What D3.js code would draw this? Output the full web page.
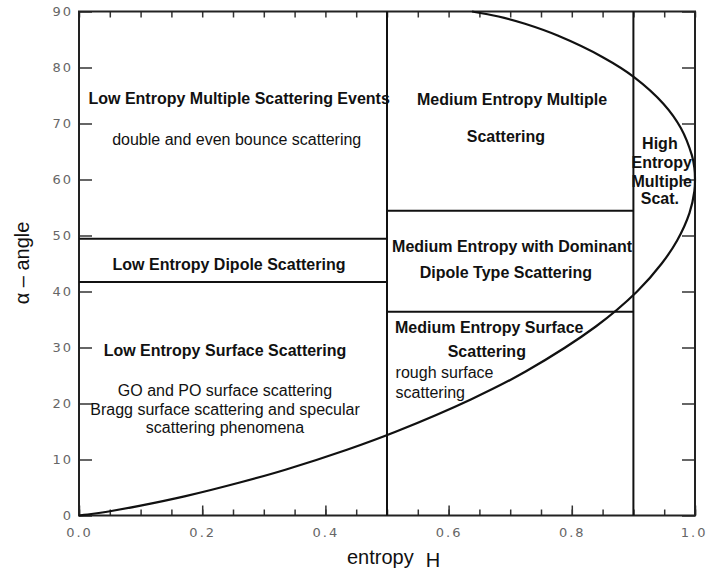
<!doctype html>
<html lang="en">
<head>
<meta charset="utf-8">
<title>H / alpha plane</title>
<script src="https://d3js.org/d3.v7.min.js"></script>
<style>
  body { margin: 0; background: #fff; }
  .zone { font-family: "Liberation Sans", Arial, sans-serif; font-size: 16px; fill: #111; }
  .zone.bold { font-weight: bold; }
  .axis-title { font-family: "Liberation Sans", Arial, sans-serif; font-size: 20px; fill: #111; }
  .tick text { font-family: "DejaVu Sans", sans-serif; font-size: 13px; fill: #666; letter-spacing: 2px; }
  .tick line { stroke: #333; stroke-width: 1.5; }
</style>
</head>
<body>
<div id="chart"></div>
<script>
// boundary of the feasible region (entropy H, alpha in degrees)
var lowerH     = [0, 0.014, 0.026, 0.057, 0.100, 0.173, 0.261, 0.335, 0.435, 0.515, 0.637, 0.725, 0.839, 0.906, 0.946, 0.971, 0.991, 0.999, 1.0];
var lowerAlpha = [0, 0.18, 0.36, 0.89, 1.76, 3.46, 5.89, 8.18, 11.74, 15.0, 20.77, 25.71, 33.75, 40.0, 45.0, 49.1, 54.0, 57.9, 60.0];
var upperH     = [0.999, 0.995, 0.977, 0.949, 0.901, 0.851, 0.777, 0.724, 0.681, 0.638];
var upperAlpha = [62.1, 64.3, 69.2, 73.5, 78.3, 81.8, 85.7, 87.8, 89.1, 90.0];

// zone borders
var entropySplits = [0.5, 0.9];
var lowAlphaSplits = [41.7, 49.4];
var medAlphaSplits = [36.4, 54.4];

// axis ticks
var xMajorTicks = [0, 0.2, 0.4, 0.6, 0.8, 1.0];
var xMinorTicks = d3.range(0, 1.0001, 0.05);
var yTicks = [0, 10, 20, 30, 40, 50, 60, 70, 80, 90];

// zone labels: [text, H, alpha, bold, anchor]
var zoneLabels = [
  ["Low Entropy Multiple Scattering Events", 0.260, 73.5, true, "middle"],
  ["double and even bounce scattering", 0.256, 66.2, false, "middle"],
  ["Low Entropy Dipole Scattering", 0.2435, 43.8, true, "middle"],
  ["Low Entropy Surface Scattering", 0.237, 28.5, true, "middle"],
  ["GO and PO surface scattering", 0.237, 21.3, false, "middle"],
  ["Bragg surface scattering and specular", 0.237, 17.9, false, "middle"],
  ["scattering phenomena", 0.237, 14.7, false, "middle"],
  ["Medium Entropy Multiple", 0.703, 73.3, true, "middle"],
  ["Scattering", 0.693, 66.7, true, "middle"],
  ["High", 0.943, 65.4, true, "middle"],
  ["Entropy", 0.946, 62.05, true, "middle"],
  ["Multiple", 0.946, 58.7, true, "middle"],
  ["Scat.", 0.943, 55.6, true, "middle"],
  ["Medium Entropy with Dominant", 0.703, 47.05, true, "middle"],
  ["Dipole Type Scattering", 0.693, 42.4, true, "middle"],
  ["Medium Entropy Surface", 0.666, 32.6, true, "middle"],
  ["Scattering", 0.662, 28.3, true, "middle"],
  ["rough surface", 0.514, 24.55, false, "start"],
  ["scattering", 0.514, 21.0, false, "start"]
];

(function() {
  var width = 707, height = 572;
  var margin = {top: 11.5, right: 12, bottom: 56.5, left: 79};

  var x = d3.scaleLinear().domain([0, 1]).range([margin.left, width - margin.right]);
  var y = d3.scaleLinear().domain([0, 90]).range([height - margin.bottom, margin.top]);

  var svg = d3.select("#chart").append("svg")
      .attr("width", width)
      .attr("height", height);

  // ticks, all pointing inward
  svg.append("g")
      .attr("transform", "translate(0," + y(0) + ")")
      .call(d3.axisBottom(x).tickValues(xMinorTicks).tickSize(-6).tickFormat(""))
      .call(function(g) { g.select(".domain").remove(); });
  svg.append("g")
      .attr("transform", "translate(0," + y(0) + ")")
      .call(d3.axisBottom(x).tickValues(xMajorTicks).tickSize(-10).tickPadding(12).tickFormat(d3.format(".1f")))
      .call(function(g) {
        g.select(".domain").remove();
        // keep the last label inside the window
        g.selectAll(".tick").filter(function(d) { return d === 1; })
          .select("text").attr("text-anchor", "end").attr("dx", 12);
      });
  svg.append("g")
      .attr("transform", "translate(0," + y(90) + ")")
      .call(d3.axisTop(x).tickValues(xMinorTicks).tickSize(-6).tickFormat(""))
      .call(function(g) { g.select(".domain").remove(); });
  svg.append("g")
      .attr("transform", "translate(" + x(0) + ",0)")
      .call(d3.axisLeft(y).tickValues(yTicks).tickSize(-13).tickPadding(6))
      .call(function(g) { g.select(".domain").remove(); });
  svg.append("g")
      .attr("transform", "translate(" + x(1) + ",0)")
      .call(d3.axisRight(y).tickValues(yTicks).tickSize(-13).tickFormat(""))
      .call(function(g) { g.select(".domain").remove(); });

  // frame
  svg.append("rect")
      .attr("x", x(0)).attr("y", y(90))
      .attr("width", x(1) - x(0)).attr("height", y(0) - y(90))
      .attr("fill", "none").attr("stroke", "#222").attr("stroke-width", 2);

  var lines = svg.append("g").attr("stroke", "#111").attr("stroke-width", 2);

  // vertical entropy borders
  lines.selectAll(".vsplit").data(entropySplits).enter()
    .append("line")
      .attr("x1", function(d) { return x(d); }).attr("x2", function(d) { return x(d); })
      .attr("y1", y(0)).attr("y2", y(90));

  // horizontal alpha borders
  lines.selectAll(".lsplit").data(lowAlphaSplits).enter()
    .append("line")
      .attr("x1", x(0)).attr("x2", x(entropySplits[0]))
      .attr("y1", function(d) { return y(d); }).attr("y2", function(d) { return y(d); });
  lines.selectAll(".msplit").data(medAlphaSplits).enter()
    .append("line")
      .attr("x1", x(entropySplits[0])).attr("x2", x(entropySplits[1]))
      .attr("y1", function(d) { return y(d); }).attr("y2", function(d) { return y(d); });

  // feasible boundary curve
  var pts = lowerH.map(function(h, i) { return [h, lowerAlpha[i]]; })
      .concat(upperH.map(function(h, i) { return [h, upperAlpha[i]]; }));
  var line = d3.line()
      .x(function(d) { return x(d[0]); })
      .y(function(d) { return y(d[1]); })
      .curve(d3.curveCatmullRom.alpha(0.5));
  svg.append("path")
      .datum(pts)
      .attr("d", line)
      .attr("fill", "none")
      .attr("stroke", "#111")
      .attr("stroke-width", 2.2);

  // zone labels
  svg.append("g").selectAll("text").data(zoneLabels).enter()
    .append("text")
      .attr("class", function(d) { return d[3] ? "zone bold" : "zone"; })
      .attr("x", function(d) { return x(d[1]); })
      .attr("y", function(d) { return y(d[2]); })
      .attr("text-anchor", function(d) { return d[4]; })
      .text(function(d) { return d[0]; });

  // axis titles
  svg.append("text")
      .attr("class", "axis-title")
      .attr("transform", "translate(29,263) rotate(-90)")
      .attr("text-anchor", "middle")
      .text("\u03b1 \u2013 angle");

  var xt = svg.append("text")
      .attr("class", "axis-title")
      .attr("x", 347).attr("y", 564);
  xt.append("tspan").text("entropy");
  xt.append("tspan").attr("dx", 12).attr("dy", 3).text("H");
})();
</script>
</body>
</html>
